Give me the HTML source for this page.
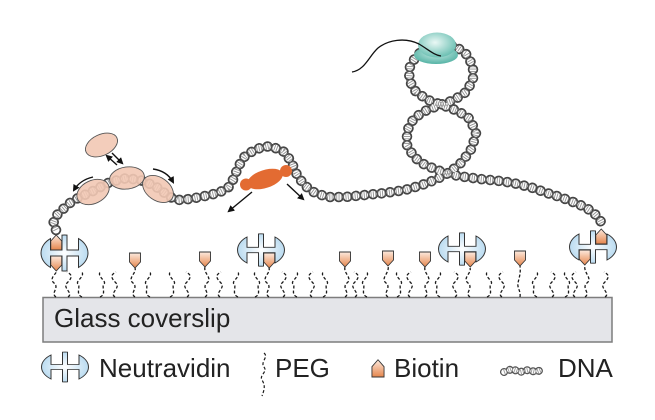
<!DOCTYPE html>
<html><head><meta charset="utf-8"><style>
html,body{margin:0;padding:0;background:#fff;}
svg{display:block;}
text{font-family:"Liberation Sans",Arial,sans-serif;fill:#222;}
</style></head><body>
<svg width="655" height="420" viewBox="0 0 655 420" xmlns="http://www.w3.org/2000/svg">
<defs>
<radialGradient id="nv" cx="50%" cy="50%" r="55%"><stop offset="0" stop-color="#ffffff"/><stop offset="1" stop-color="#b4d8ef"/></radialGradient>
<linearGradient id="bio" x1="0" y1="0" x2="0" y2="1"><stop offset="0" stop-color="#fdeade"/><stop offset="1" stop-color="#e5854c"/></linearGradient>
<linearGradient id="bioU" x1="0" y1="1" x2="0" y2="0"><stop offset="0" stop-color="#fdeade"/><stop offset="1" stop-color="#e5854c"/></linearGradient>
<radialGradient id="teal1" cx="45%" cy="40%" r="60%"><stop offset="0" stop-color="#eaf8f5"/><stop offset="1" stop-color="#6cc0b3"/></radialGradient>
<radialGradient id="teal2" cx="50%" cy="40%" r="60%"><stop offset="0" stop-color="#c9ebe5"/><stop offset="1" stop-color="#55b3a5"/></radialGradient>
<marker id="ah" viewBox="0 0 10 10" refX="7" refY="5" markerWidth="5" markerHeight="5" orient="auto"><path d="M0,0 L10,5 L0,10 z" fill="#111"/></marker>
<path id="nvp" d="M-14,-14.45 A23.5,18 0 0 0 -14,14.45 L-14,3 L-2.5,3 L-2.5,17.9 A23.5,18 0 0 0 2.5,17.9 L2.5,3 L14,3 L14,14.45 A23.5,18 0 0 0 14,-14.45 L14,-3 L2.5,-3 L2.5,-17.9 A23.5,18 0 0 0 -2.5,-17.9 L-2.5,-3 L-14,-3 Z"/>
<path id="bd" d="M-5.5,0 H5.5 V9 L0,15 L-5.5,9 Z"/>
<polyline id="dna" points="56,230 53,224 56,216 62,210 70,203 78,198 93,191 110,182 127,178 144,181 158,188 170,197 178,200 190,199 205,196 218,193 228,188 234,178 238,167 245,156 256,149 270,146 283,151 291,161 296,173 304,185 315,193 328,197 345,197 365,195 385,193 405,190 422,185 437,179 450,172 462,162 472,148 476,133 470,119 458,111 442,105 428,100 416,92 409,80 410,66 417,55 427,48 440,44 455,46 466,54 473,66 473,80 466,92 454,100 440,105 427,110 414,118 407,131 407,145 414,157 425,165 440,171 458,176 480,179 500,181 513,183 530,187 547,193 560,197 573,202 585,207 594,213 600,220 602,224"/>
<polyline id="dnal" points="504,372 512,369 520,372 528,370 536,372 541,370"/>
</defs>

<!-- Glass coverslip -->
<rect x="43" y="297.5" width="569" height="44.5" fill="#e4e5e9" stroke="#7d7d7d" stroke-width="1.5"/>
<text x="54" y="327" font-size="26">Glass coverslip</text>

<!-- PEG chains -->
<g fill="none" stroke="#1a1a1a" stroke-width="1.3" stroke-dasharray="3 2">
<path d="M56,297 c-6,-4 4,-9 -2,-14 s4,-10 2,-12"/>
<path d="M68,297 c6,-4 -6,-9 -1,-14 s6,-8 0,-11"/>
<path d="M82,297 c-7,-3 -1,-10 -4,-13 s7,-7 4,-12"/>
<path d="M100,297 c7,-3 1,-10 4,-13 s-7,-7 -4,-12"/>
<path d="M115,297 c-6,-4 6,-9 1,-14 s-6,-8 0,-11"/>
<path d="M135,297 c-6,-4 4,-9 -2,-14 s4,-10 2,-15"/>
<path d="M150,297 c-7,-3 -1,-10 -4,-13 s7,-7 4,-12"/>
<path d="M170,297 c7,-3 1,-10 4,-13 s-7,-7 -4,-12"/>
<path d="M187,297 c6,-4 -6,-9 -1,-14 s6,-8 0,-11"/>
<path d="M205,297 c6,-4 -4,-9 2,-14 s-4,-10 -2,-16"/>
<path d="M220,297 c-6,-4 6,-9 1,-14 s-6,-8 0,-11"/>
<path d="M238,297 c-7,-3 -1,-10 -4,-13 s7,-7 4,-12"/>
<path d="M255,297 c7,-3 1,-10 4,-13 s-7,-7 -4,-12"/>
<path d="M269,297 c-6,-4 4,-9 -2,-14 s4,-10 2,-15"/>
<path d="M283,297 c6,-4 -6,-9 -1,-14 s6,-8 0,-11"/>
<path d="M297,297 c-7,-3 -1,-10 -4,-13 s7,-7 4,-12"/>
<path d="M312,297 c-6,-4 6,-9 1,-14 s-6,-8 0,-11"/>
<path d="M323,297 c7,-3 1,-10 4,-13 s-7,-7 -4,-12"/>
<path d="M345,297 c6,-4 -4,-9 2,-14 s-4,-10 -2,-16"/>
<path d="M355,297 c6,-4 -6,-9 -1,-14 s6,-8 0,-11"/>
<path d="M367,297 c-7,-3 -1,-10 -4,-13 s7,-7 4,-12"/>
<path d="M388,297 c-6,-4 4,-9 -2,-14 s4,-10 2,-17"/>
<path d="M397,297 c7,-3 1,-10 4,-13 s-7,-7 -4,-12"/>
<path d="M410,297 c-6,-4 6,-9 1,-14 s-6,-8 0,-11"/>
<path d="M425,297 c6,-4 -4,-9 2,-14 s-4,-10 -2,-16"/>
<path d="M440,297 c-7,-3 -1,-10 -4,-13 s7,-7 4,-12"/>
<path d="M455,297 c6,-4 -6,-9 -1,-14 s6,-8 0,-11"/>
<path d="M470,297 c-6,-4 4,-9 -2,-14 s4,-10 2,-15"/>
<path d="M487,297 c7,-3 1,-10 4,-13 s-7,-7 -4,-12"/>
<path d="M502,297 c-6,-4 6,-9 1,-14 s-6,-8 0,-11"/>
<path d="M520,297 c1,-6 -3,-9 -2,-14 s3,-10 2,-17"/>
<path d="M537,297 c-7,-3 -1,-10 -4,-13 s7,-7 4,-12"/>
<path d="M552,297 c6,-4 -6,-9 -1,-14 s6,-8 0,-11"/>
<path d="M565,297 c7,-3 1,-10 4,-13 s-7,-7 -4,-12"/>
<path d="M575,297 c-6,-4 6,-9 1,-14 s-6,-8 0,-11"/>
<path d="M585,297 c6,-4 -4,-9 2,-14 s-4,-10 -2,-18"/>
<path d="M605,297 c6,-4 -6,-9 -1,-14 s6,-8 0,-11"/>
</g>

<!-- Free biotins -->
<g fill="url(#bio)" stroke="#333" stroke-width="0.9">
<use href="#bd" transform="translate(135,253)"/>
<use href="#bd" transform="translate(205,252)"/>
<use href="#bd" transform="translate(345,252)"/>
<use href="#bd" transform="translate(388,251)"/>
<use href="#bd" transform="translate(425,252)"/>
<use href="#bd" transform="translate(520,251)"/>
</g>

<!-- Neutravidins -->
<g fill="url(#nv)" stroke="#333" stroke-width="1">
<use href="#nvp" transform="translate(64.5,253)"/>
<use href="#nvp" transform="translate(261,250) scale(1,0.9)"/>
<use href="#nvp" transform="translate(462,249) scale(1,0.9)"/>
<use href="#nvp" transform="translate(593,247) scale(1,0.9)"/>
</g>
<!-- Biotins in neutravidins -->
<g stroke="#333" stroke-width="0.9">
<use href="#bd" fill="url(#bio)" transform="translate(56.25,256)"/>
<use href="#bd" fill="url(#bioU)" transform="translate(56.25,250) scale(1,-1)"/>
<use href="#bd" fill="url(#bio)" transform="translate(269.25,253)"/>
<use href="#bd" fill="url(#bio)" transform="translate(470.25,252)"/>
<use href="#bd" fill="url(#bio)" transform="translate(584.75,250)"/>
<use href="#bd" fill="url(#bioU)" transform="translate(601.25,244) scale(1,-1)"/>
</g>

<!-- DNA -->
<g fill="none" stroke-linejoin="round">
<use href="#dna" stroke="#454545" stroke-width="10.5" stroke-dasharray="0.1 8.5" stroke-linecap="round"/>
<use href="#dna" stroke="#ffffff" stroke-width="7" stroke-dasharray="0.1 8.5" stroke-linecap="round"/>
<use href="#dna" stroke="#6f6f6f" stroke-width="6" stroke-dasharray="0.9 1.4" stroke-linecap="butt" opacity="0.75"/>
</g>

<!-- Pink ovals -->
<g fill="#f2c8b4" fill-opacity="0.9" stroke="#555" stroke-width="0.9">
<ellipse cx="101.5" cy="145" rx="17" ry="10.5" transform="rotate(-25 101.5 145)"/>
<ellipse cx="93" cy="192" rx="17" ry="11.5" transform="rotate(-25 93 192)"/>
<ellipse cx="158" cy="189" rx="17" ry="11.5" transform="rotate(35 158 189)"/>
<ellipse cx="127" cy="178" rx="17.5" ry="11" transform="rotate(-8 127 178)"/>
</g>

<!-- Arrows -->
<g fill="none" stroke="#111" stroke-width="1.4" marker-end="url(#ah)">
<path d="M117,165 L107,156"/>
<path d="M112,153 L122,163"/>
<path d="M93,177 Q80,180 74,190"/>
<path d="M153,169 Q167,171 173,182"/>
<path d="M252,192 L229,211"/>
<path d="M287,184 L303,199"/>
</g>

<!-- Orange protein -->
<g fill="#e36b32">
<ellipse cx="265" cy="179" rx="18.5" ry="9" transform="rotate(-18 265 179)"/>
<circle cx="246" cy="184.5" r="6"/>
<circle cx="286" cy="171" r="6"/>
</g>

<!-- Teal protein -->
<ellipse cx="436" cy="55" rx="22" ry="9" fill="url(#teal2)"/>
<ellipse cx="437" cy="45" rx="19" ry="12.5" fill="url(#teal1)"/>
<path d="M352,72 C365,70 369,56 378,48 C388,40 405,37 419,44 C429,50 434,55 441,56" fill="none" stroke="#111" stroke-width="1.3"/>

<!-- Legend -->
<use href="#nvp" fill="url(#nv)" stroke="#333" stroke-width="1" transform="translate(65,367) scale(1,0.83)"/>
<text x="99" y="377" font-size="26">Neutravidin</text>
<path d="M264,353 c5,4 -4,9 0,14 s-5,8 -2,13 s3,8 0,16" fill="none" stroke="#1a1a1a" stroke-width="1.2" stroke-dasharray="3 2"/>
<text x="275" y="377" font-size="26">PEG</text>
<use href="#bd" fill="url(#bioU)" stroke="#333" stroke-width="0.8" transform="translate(378,377) scale(1.1,-1.15)"/>
<text x="394" y="377" font-size="26">Biotin</text>
<g fill="none" stroke-linejoin="round">
<use href="#dnal" stroke="#555" stroke-width="8" stroke-dasharray="0.1 6" stroke-linecap="round"/>
<use href="#dnal" stroke="#ffffff" stroke-width="5.5" stroke-dasharray="0.1 6" stroke-linecap="round"/>
<use href="#dnal" stroke="#777" stroke-width="5" stroke-dasharray="0.9 1.3" opacity="0.75"/>
</g>
<text x="558" y="377" font-size="26">DNA</text>
</svg>
</body></html>
